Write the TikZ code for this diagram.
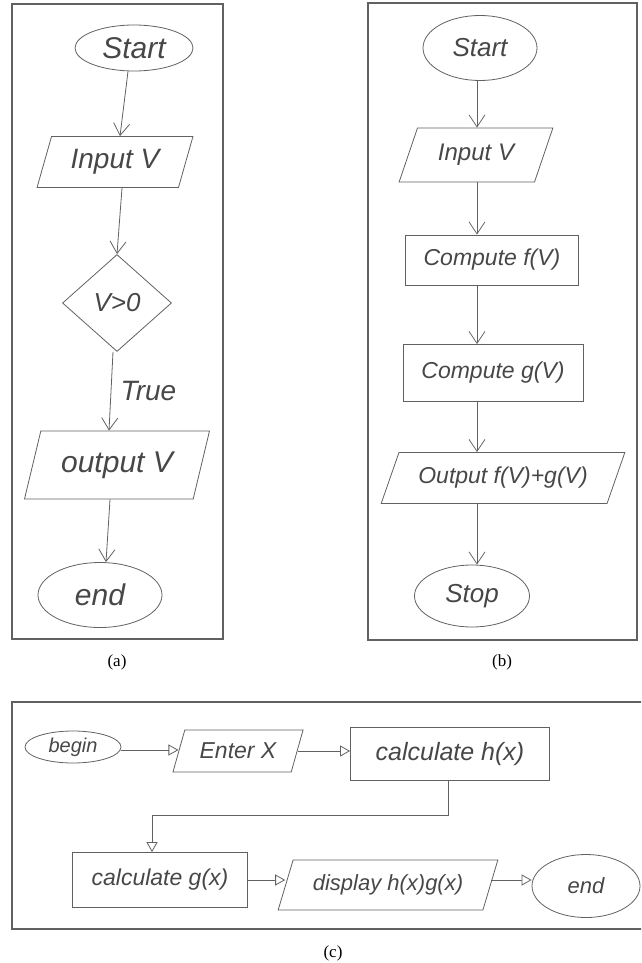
\documentclass[tikz,border=0pt]{standalone}
\usepackage{fontspec}
\setmainfont{Liberation Serif}
\newfontfamily\handfont{Liberation Sans}
\usetikzlibrary{shapes.geometric,arrows.meta}
\begin{document}
\begin{tikzpicture}[x=1pt,y=-1pt,
  pen/.style={draw=black!62, line width=0.8pt},
  txt/.style={text=black!72, font=\handfont\itshape\fontsize{#1}{#1}\selectfont},
  oval/.style={pen, ellipse, inner sep=0pt},
  box/.style={pen, rectangle, inner sep=0pt},
  para/.style={pen, trapezium, trapezium stretches=true, inner sep=0pt},
  dia/.style={pen, diamond, inner sep=0pt},
  arrv/.style={pen, -{Straight Barb[length=12pt,width=16pt]}},
  arrt/.style={pen, -{Triangle[open,length=10pt,width=11pt]}},
  frame/.style={draw=black!62, line width=1.3pt},
  captxt/.style={font=\fontsize{17}{19}\selectfont}
]
\useasboundingbox (0,0) rectangle (641,963);
\clip (0,0) rectangle (641,963);

% frames
\draw[frame] (12,4) rectangle (223,639);
\draw[frame] (368,3) rectangle (637,640);
\draw[frame] (12,702) rectangle (660,929);

% (a)
\node[oval, minimum width=118pt, minimum height=46pt, txt=30] (sa) at (134,48) {Start};
\node[para, trapezium left angle=68, trapezium right angle=112, minimum width=156pt, minimum height=51pt, txt=28] (ia) at (115,162) {Input V};
\node[dia, minimum width=109pt, minimum height=97pt, txt=26] (da) at (117,303) {V>0};
\node[para, trapezium left angle=66, trapezium right angle=114, minimum width=185pt, minimum height=68pt, txt=30] (oa) at (117,465) {output V};
\node[oval, minimum width=124pt, minimum height=65pt, txt=30] (ea) at (100,595) {end};
\draw[arrv] ([xshift=-6pt]sa.south) -- ([xshift=5pt]ia.north);
\draw[arrv] ([xshift=7pt]ia.south) -- (da.north);
\draw[arrv] ([xshift=-4pt]da.south) -- node[right, xshift=6pt, txt=28] (ta) {True} ([xshift=-8pt]oa.north);
\draw[arrv] ([xshift=-7pt]oa.south) -- ([xshift=6pt]ea.north);

% (b)
\coordinate (bx) at (477,0);
\node[oval, minimum width=114pt, minimum height=65pt, txt=26] (sb) at (480,48) {Start};
\node[para, trapezium left angle=61, trapezium right angle=119, minimum width=154pt, minimum height=54pt, txt=24] (ib) at (476,155) {Input V};
\node[box, minimum width=173pt, minimum height=50pt, txt=23] (fb) at (492,260) {Compute f(V)};
\node[box, minimum width=180pt, minimum height=57pt, txt=23] (gb) at (493,373) {Compute g(V)};
\node[para, trapezium left angle=56, trapezium right angle=124, minimum width=244pt, minimum height=51pt, txt=23] (ob) at (503,478) {Output f(V)+g(V)};
\node[oval, minimum width=115pt, minimum height=62pt, txt=26] (tb) at (472,596) {Stop};
\draw[arrv] (sb.south -| bx) -- (ib.north -| bx);
\draw[arrv] (ib.south -| bx) -- (fb.north -| bx);
\draw[arrv] (fb.south -| bx) -- (gb.north -| bx);
\draw[arrv] (gb.south -| bx) -- (ob.north -| bx);
\draw[arrv] (ob.south -| bx) -- (tb.north -| bx);

% (c)
\node[oval, minimum width=96pt, minimum height=32pt, txt=20] (bc) at (73,747) {begin};
\node[para, trapezium left angle=62, trapezium right angle=118, minimum width=131pt, minimum height=42pt, txt=23] (xc) at (238,751) {Enter X};
\node[box, minimum width=199pt, minimum height=53pt, txt=25] (hc) at (450,754) {calculate h(x)};
\node[box, minimum width=175pt, minimum height=55pt, txt=23] (gc) at (160,880) {calculate g(x)};
\node[para, trapezium left angle=60, trapezium right angle=120, minimum width=220pt, minimum height=50pt, txt=22] (dc) at (388,885) {display h(x)g(x)};
\node[oval, minimum width=108pt, minimum height=63pt, txt=22] (ec) at (586,886) {end};
\draw[arrt] ([yshift=-3pt]bc.east) -- ([yshift=-3pt]bc.east -| xc.west);
\draw[arrt] (xc.east) -- (xc.east -| hc.west);
\draw[arrt] ([xshift=-2pt]hc.south) -- ++(0,34) -| ([xshift=-8pt]gc.north);
\draw[arrt] (gc.east) -- (gc.east -| dc.west);
\draw[arrt] ([yshift=5pt]dc.east) -- ([yshift=5pt]dc.east -| ec.west);

% captions
\node[captxt] (la) at (117,662) {(a)};
\node[captxt] (lb) at (502,662) {(b)};
\node[captxt] (lc) at (333,953) {(c)};
\end{tikzpicture}
\end{document}
